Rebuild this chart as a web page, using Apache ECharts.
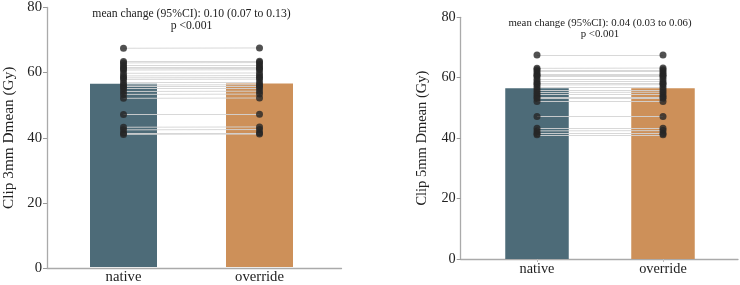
<!doctype html>
<html>
<head>
    <meta charset="utf-8"/>
    <title>Clip Dmean native vs override</title>
    <script src="https://cdn.jsdelivr.net/npm/echarts@6/dist/echarts.min.js"></script>
    <style>
    body { margin: 0; background-color: #fff; }
    #main { width: 740px; height: 285px; }
    </style>
</head>
<body>
<div id="main"></div>
<script>
const categories = ['native', 'override'];
const tickLabels = [0, 20, 40, 60, 80];

// Clip 3mm
const clip3Mean = [56.4, 56.5];
const clip3Native = [67.3, 63.2, 62.8, 62.1, 61.5, 61.0, 60.6, 59.6, 58.8, 58.2, 57.7, 56.7, 56.0, 55.5, 54.9, 54.0, 53.1, 51.9, 46.9, 43.0, 42.2, 41.2, 40.8];
const clip3Override = [67.4, 63.3, 62.9, 62.2, 61.6, 61.1, 60.7, 59.7, 58.9, 58.3, 57.8, 56.8, 56.1, 55.6, 55.0, 54.1, 53.2, 52.0, 47.0, 43.1, 42.3, 41.3, 40.9];
const clip3Text = 'mean change (95%CI): 0.10 (0.07 to 0.13)\np <0.001';

// Clip 5mm
const clip5Mean = [56.5, 56.5];
const clip5Native = [67.5, 63.1, 62.6, 62.0, 61.2, 60.8, 60.4, 59.5, 58.7, 58.1, 57.6, 56.8, 55.9, 55.1, 54.4, 53.7, 53.1, 52.1, 47.2, 43.3, 42.4, 41.5, 41.1];
const clip5Override = [67.5, 63.2, 62.6, 62.0, 61.3, 60.8, 60.4, 59.6, 58.7, 58.1, 57.7, 56.8, 55.9, 55.2, 54.4, 53.7, 53.2, 52.1, 47.2, 43.3, 42.5, 41.5, 41.1];
const clip5Text = 'mean change (95%CI): 0.04 (0.03 to 0.06)\np <0.001';

const barColors = ['#4d6b78', '#cd9059'];
const FONT = 'Liberation Serif';

const chart = echarts.init(document.getElementById('main'));

// each panel: frame grid (axes only) + plot grid (marks)
const panels = [
    {frame: {left: 41, top: 7, width: 300.5, bottom: 17}, plot: {left: 55.5, top: 7, width: 272, bottom: 17},
     name: 'Clip 3mm Dmean (Gy)', mean: clip3Mean, a: clip3Native, b: clip3Override, text: clip3Text,
     fs: 14.7, nameFs: 15.3, textFs: 11.7, textX: 191.5, textY: 8, lh: 12, barW: 67, tick: false},
    {frame: {left: 460.7, top: 17.3, width: 277.3, bottom: 26}, plot: {left: 474, top: 17.3, width: 252, bottom: 26},
     name: 'Clip 5mm Dmean (Gy)', mean: clip5Mean, a: clip5Native, b: clip5Override, text: clip5Text,
     fs: 14.3, nameFs: 14.5, textFs: 10.8, textX: 600, textY: 18, lh: 11, barW: 63.5, tick: true}
];

const grid = [], xAxis = [], yAxis = [], series = [], graphic = [];
panels.forEach((p) => {
    const gf = grid.length;
    grid.push(p.frame);
    grid.push(p.plot);
    xAxis.push({
        gridIndex: gf, type: 'value', min: 0, max: 1,
        axisLine: {show: true, lineStyle: {color: '#aaa', width: 1.3}},
        axisTick: {show: false}, axisLabel: {show: false}, splitLine: {show: false}
    });
    xAxis.push({
        gridIndex: gf + 1, type: 'category', data: categories,
        axisLine: {show: false},
        axisTick: {show: p.tick, alignWithLabel: true, length: 3, lineStyle: {color: '#bbb'}},
        axisLabel: {color: '#222', fontFamily: FONT, fontSize: p.fs, margin: 3}
    });
    yAxis.push({
        gridIndex: gf, type: 'value', min: tickLabels[0], max: tickLabels[tickLabels.length - 1], interval: 20,
        name: p.name, nameLocation: 'middle', nameGap: 31,
        nameTextStyle: {color: '#222', fontFamily: FONT, fontSize: p.nameFs},
        axisLine: {show: true, lineStyle: {color: '#aaa', width: 1.3}},
        axisTick: {show: true, length: 4, lineStyle: {color: '#999'}},
        axisLabel: {color: '#222', fontFamily: FONT, fontSize: p.fs, margin: 5},
        splitLine: {show: false}
    });
    yAxis.push({
        gridIndex: gf + 1, type: 'value', min: 0, max: 80, show: false, splitLine: {show: false}
    });
    const xi = gf + 1, yi = gf + 1;
    series.push({
        type: 'bar', xAxisIndex: xi, yAxisIndex: yi, barWidth: p.barW, silent: true,
        data: p.mean.map((v, k) => ({value: v, itemStyle: {color: barColors[k]}}))
    });
    series.push({
        type: 'lines', coordinateSystem: 'cartesian2d', xAxisIndex: xi, yAxisIndex: yi, silent: true,
        lineStyle: {color: '#d4d4d4', width: 1, opacity: 0.9},
        data: p.a.map((v, k) => ({coords: [[0, v], [1, p.b[k]]]})),
        z: 3
    });
    series.push({
        type: 'scatter', xAxisIndex: xi, yAxisIndex: yi, symbolSize: 7, silent: true,
        itemStyle: {color: '#262626'},
        data: p.a.map(v => [0, v]).concat(p.b.map(v => [1, v])),
        z: 4
    });
    graphic.push({
        type: 'text', x: p.textX, y: p.textY,
        style: {text: p.text, fill: '#222', font: p.textFs + 'px "' + FONT + '"', align: 'center', verticalAlign: 'top', lineHeight: p.lh}
    });
});

chart.setOption({
    animation: false,
    grid: grid, xAxis: xAxis, yAxis: yAxis, series: series,
    graphic: graphic
});
</script>
</body>
</html>
